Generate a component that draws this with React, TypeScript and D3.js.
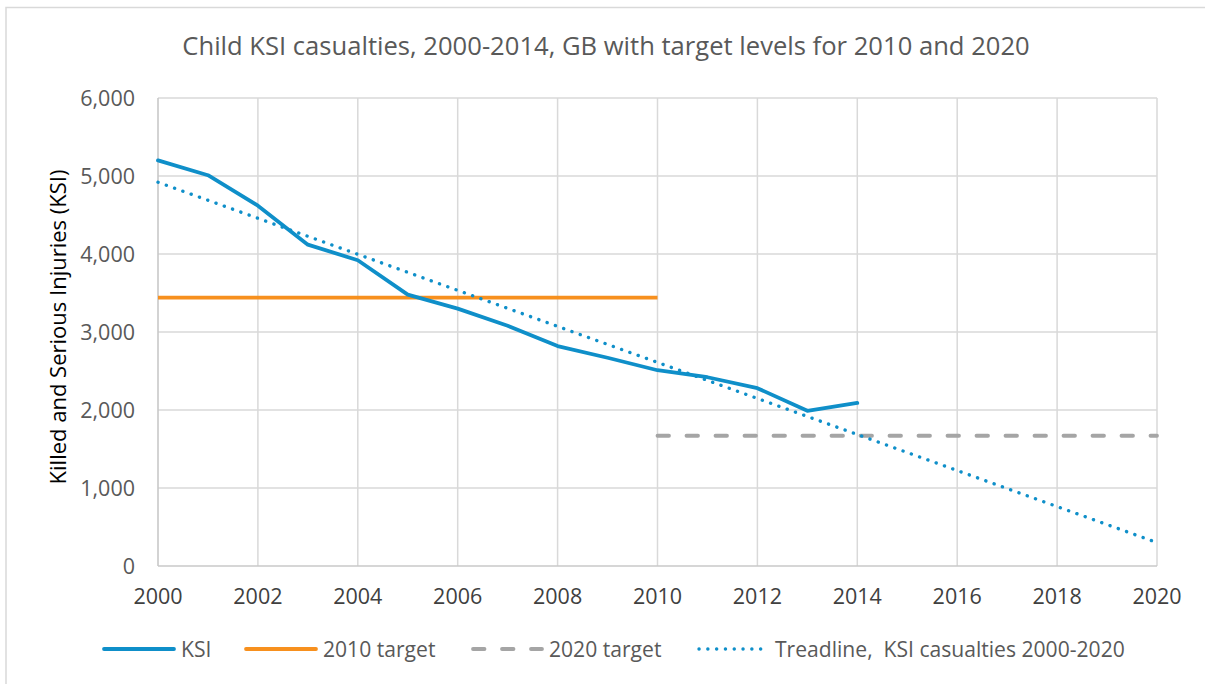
import React from "react";
import * as d3 from "d3";

// KSI casualties by year
const years = [2000, 2001, 2002, 2003, 2004, 2005, 2006, 2007, 2008, 2009, 2010, 2011, 2012, 2013, 2014];
const ksi = [5200, 5010, 4620, 4120, 3920, 3480, 3300, 3080, 2820, 2670, 2510, 2420, 2280, 1990, 2090];

// target levels
const target2010Years = [2000, 2010];
const target2010 = [3440, 3440];
const target2020Years = [2010, 2020];
const target2020 = [1670, 1670];

// trend line endpoints
const trendYears = [2000, 2020];
const trend = [4920, 300];

const xTicks = [2000, 2002, 2004, 2006, 2008, 2010, 2012, 2014, 2016, 2018, 2020];
const yTicks = [0, 1000, 2000, 3000, 4000, 5000, 6000];

const seriesNames = ["KSI", "2010 target", "2020 target", "Treadline,  KSI casualties 2000-2020"];

const W = 1205;
const H = 684;
const FONT = "'Open Sans', 'Noto Sans', sans-serif";
const BLUE = "#0f8fc9";
const ORANGE = "#f7901e";
const GREY = "#a5a5a5";

export default function App() {
  const margin = { left: 158, right: 1157, top: 98, bottom: 566 };

  const x = d3.scaleLinear().domain([2000, 2020]).range([margin.left, margin.right]);
  const y = d3.scaleLinear().domain([0, 6000]).range([margin.bottom, margin.top]);

  const line = d3
    .line<[number, number]>()
    .x((d) => x(d[0]))
    .y((d) => y(d[1]));

  const zip = (xs: number[], ys: number[]) => xs.map((v, i) => [v, ys[i]] as [number, number]);

  // Series styles
  const styles = [
    { color: BLUE, width: 3.8, dash: undefined },
    { color: ORANGE, width: 3.8, dash: undefined },
    { color: GREY, width: 3.8, dash: "11.5 17.5" },
    { color: BLUE, width: 3.4, dash: "0.1 8.7" },
  ];

  const legendItems = [
    { x0: 104, x1: 174, tx: 181 },
    { x0: 246, x1: 316, tx: 323 },
    { x0: 473, x1: 542, tx: 549 },
    { x0: 699, x1: 762, tx: 775 },
  ];

  return (
    <svg
      width={W}
      height={H}
      style={{ position: "absolute", left: 0, top: 0, background: "#fff" }}
      fontFamily={FONT}
    >
      {/* chart border */}
      <rect x={6} y={7.5} width={W + 20} height={H + 20} fill="#fff" stroke="#d9d9d9" strokeWidth={1.5} />

      {/* title */}
      <text x={606} y={55} textAnchor="middle" fontSize={25.6} fill="#595959">
        Child KSI casualties, 2000-2014, GB with target levels for 2010 and 2020
      </text>

      {/* gridlines */}
      <g stroke="#d9d9d9" strokeWidth={1.5}>
        {yTicks.slice(1).map((t) => (
          <line key={"h" + t} x1={margin.left} x2={margin.right} y1={y(t)} y2={y(t)} />
        ))}
        {xTicks.slice(1).map((t) => (
          <line key={"v" + t} x1={x(t)} x2={x(t)} y1={margin.top} y2={margin.bottom} />
        ))}
      </g>
      {/* axes */}
      <g stroke="#c8c8c8" strokeWidth={1.6}>
        <line x1={margin.left} x2={margin.left} y1={margin.top} y2={margin.bottom} />
        <line x1={margin.left} x2={margin.right} y1={margin.bottom} y2={margin.bottom} />
      </g>

      {/* y tick labels */}
      {yTicks.map((t) => (
        <text key={"yl" + t} x={135} y={y(t)} dy="0.36em" textAnchor="end" fontSize={21.5} fill="#595959">
          {d3.format(",")(t)}
        </text>
      ))}

      {/* x tick labels */}
      {xTicks.map((t) => (
        <text key={"xl" + t} x={x(t)} y={604} textAnchor="middle" fontSize={21.5} fill="#404040">
          {t}
        </text>
      ))}

      {/* y axis title */}
      <text
        transform={`translate(66, 327) rotate(-90)`}
        textAnchor="middle"
        fontSize={22}
        fill="#000"
      >
        Killed and Serious Injuries (KSI)
      </text>

      {/* series */}
      <path d={line(zip(target2010Years, target2010)) || ""} fill="none" stroke={styles[1].color} strokeWidth={styles[1].width} />
      <path
        d={line(zip(target2020Years, target2020)) || ""}
        fill="none"
        stroke={styles[2].color}
        strokeWidth={styles[2].width}
        strokeDasharray={styles[2].dash}
        strokeLinecap="round"
      />
      <path
        d={line(zip(years, ksi)) || ""}
        fill="none"
        stroke={styles[0].color}
        strokeWidth={styles[0].width}
        strokeLinejoin="round"
        strokeLinecap="round"
      />
      <path
        d={line(zip(trendYears, trend)) || ""}
        fill="none"
        stroke={styles[3].color}
        strokeWidth={styles[3].width}
        strokeDasharray={styles[3].dash}
        strokeLinecap="round"
      />

      {/* legend */}
      {seriesNames.map((name, i) => {
        const s = styles[i];
        const l = legendItems[i];
        return (
          <g key={name}>
            <line
              x1={l.x0}
              x2={l.x1}
              y1={649}
              y2={649}
              stroke={s.color}
              strokeWidth={s.width}
              strokeDasharray={s.dash}
              strokeLinecap="round"
            />
            <text x={l.tx} y={649} dy="0.36em" fontSize={21.1} fill="#595959" style={{ whiteSpace: "pre" }}>
              {name}
            </text>
          </g>
        );
      })}
    </svg>
  );
}
